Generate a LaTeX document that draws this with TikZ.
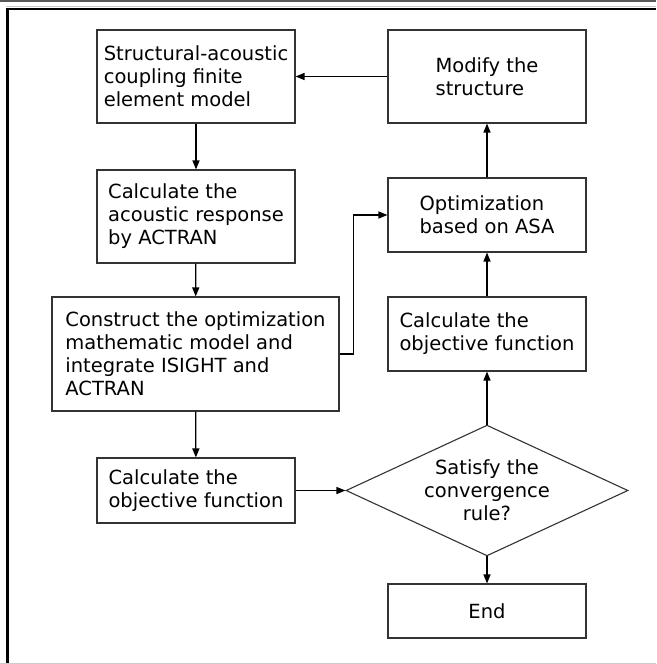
\documentclass[tikz,border=0pt]{standalone}
\usepackage{fontspec}
\setmainfont{DejaVu Sans}
\usepackage{xcolor}
\usepackage{tikz}
\usetikzlibrary{arrows.meta, shapes.geometric, calc}

\begin{document}
\begin{tikzpicture}[x=1pt, y=-1pt,
  font=\fontsize{19.5}{23}\selectfont,
  stepbox/.style={draw=black!80, line width=1.1pt, align=left, inner sep=0pt},
  decision/.style={draw=black!80, line width=1.1pt, shape=diamond, align=center,
    inner xsep=-20pt, inner ysep=-8pt, minimum width=282pt, minimum height=93pt},
  flow/.style={line width=1.3pt, -{Triangle[length=9pt, width=7pt]}}]

\useasboundingbox (0,0) rectangle (656,664);

% frame
\draw[black!65, line width=1.5pt] (0,0.75) -- (656,0.75);
\draw[black!20, line width=1pt] (6,6.5) -- (656,6.5);
\draw[black, line width=2.5pt] (5.5,9) -- (656,9);
\draw[black, line width=3pt] (7,7.75) -- (7,664);
\draw[black!20, line width=1pt] (0,663.5) -- (656,663.5);

% ===== left column =====
\node[stepbox, minimum width=198pt, minimum height=93pt] (model) at (196,76.5)
  {Structural-acoustic\\coupling finite\\element model};
\node[stepbox, minimum width=198pt, minimum height=93pt] (actran) at (196,216.5)
  {Calculate the\\acoustic response\\by ACTRAN};
\node[stepbox, minimum width=287pt, minimum height=114pt] (construct) at (195.5,354)
  {Construct the optimization\\mathematic model and\\integrate ISIGHT and\\ACTRAN};
\node[stepbox, minimum width=198pt, minimum height=65pt] (objL) at (196,490.5)
  {Calculate the\\objective function};

% ===== right column =====
\node[stepbox, minimum width=198pt, minimum height=93pt] (modify) at (487,76.5)
  {Modify the\\structure};
\node[stepbox, minimum width=198pt, minimum height=74pt] (asa) at (487,215)
  {Optimization\\based on ASA};
\node[stepbox, minimum width=198pt, minimum height=74pt] (objR) at (487,334)
  {Calculate the\\objective function};
\node[decision] (conv) at (487,490.5)
  {Satisfy the\\convergence\\rule?};
\node[stepbox, minimum width=198pt, minimum height=54pt, align=center] (finish) at (487,611)
  {End};

% ===== connectors =====
\draw[flow] (model) -- (actran);
\draw[flow] (actran) -- (construct);
\draw[flow] (construct) -- (objL);
\draw[flow] (objL) -- (conv);
\draw[flow] (conv) -- (objR);
\draw[flow] (objR) -- (asa);
\draw[flow] (asa) -- (modify);
\draw[flow] (modify) -- (model);
\draw[flow] (conv) -- (finish);
\draw[flow] (construct.east) -- ++(14,0) |- (asa.west);

\end{tikzpicture}
\end{document}
